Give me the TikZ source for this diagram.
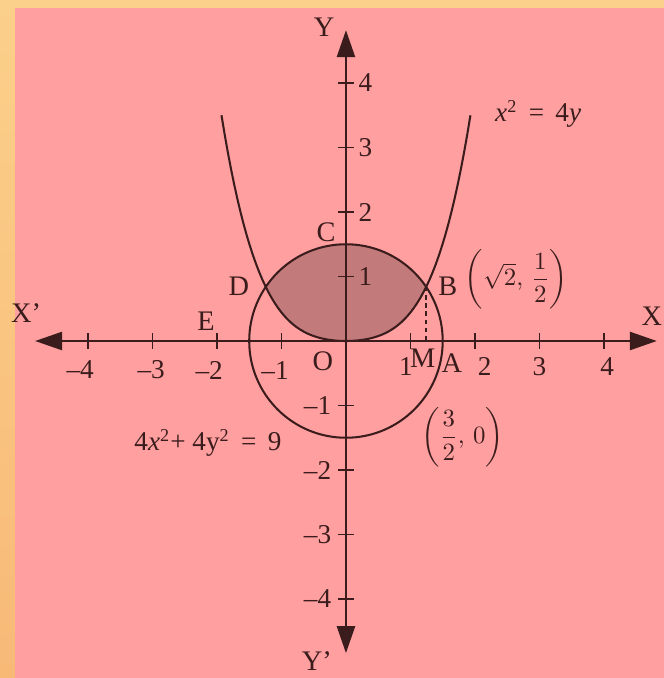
\documentclass[tikz,border=0pt]{standalone}
\usepackage{amsmath}
\usepackage{fontspec}
\setmainfont{Liberation Serif}
\usepackage{xcolor}
\usepackage{tikz}
\usetikzlibrary{arrows.meta,calc}
\definecolor{framehigh}{HTML}{FBD08A}
\definecolor{framelow}{HTML}{F8B977}
\definecolor{paper}{HTML}{FF9F9F}
\definecolor{region}{HTML}{C27A7A}
\definecolor{ink}{HTML}{3A1C1C}
\tikzset{
  axis/.style={draw=ink,line width=1.1pt,{Triangle[length=4.2mm,width=2.8mm]}-{Triangle[length=4.2mm,width=2.8mm]}},
  curve/.style={draw=ink,line width=0.9pt},
  tick/.style={draw=ink,line width=0.8pt},
  dropline/.style={draw=ink,line width=0.9pt,dash pattern=on 2pt off 1.6pt},
  ticklabel/.style={font=\fontsize{12}{14}\selectfont,text=ink,inner sep=0pt},
  pointlabel/.style={font=\fontsize{12.5}{14}\selectfont,text=ink,inner sep=0pt},
  eqlabel/.style={font=\fontsize{12}{14}\selectfont,text=ink,inner sep=0pt}
}
\begin{document}
\begin{tikzpicture}
  \useasboundingbox (-5.364,-5.225) rectangle (4.930,5.287);
  \shade[top color=framehigh,bottom color=framelow] (-5.364,-5.225) rectangle (4.930,5.287);
  \fill[paper] (-5.132,-5.225) rectangle (4.930,5.163);
  % points of the figure
  \coordinate (O) at (0,0);
  \coordinate (B) at (34:1.5);
  \coordinate (D) at (146:1.5);
  \coordinate (M) at (B |- O);
  \coordinate (xl) at (-4.82,0);
  \coordinate (xr) at (4.82,0);
  \coordinate (yt) at (0,4.82);
  \coordinate (yb) at (0,-4.84);
  % shaded region between the curves
  \fill[region] plot[domain=-1.2436:1.2436,samples=60] (\x,{0.2603*\x*\x+0.1824*\x*\x*\x*\x})
    arc[start angle=34,end angle=146,radius=1.5] -- cycle;
  \draw[curve] (O) circle[radius=1.5];
  \draw[curve] plot[domain=-1.93:1.93,samples=80] (\x,{0.2603*\x*\x+0.1824*\x*\x*\x*\x});
  \draw[dropline] (B) -- (M);
  \draw[axis] (xl) -- (xr);
  \draw[axis] (yt) -- (yb);
  \foreach \k in {-4,-3,-2,-1,1,2,3,4} {
    \draw[tick] (\k,-0.12) -- (\k,0.12);
    \draw[tick] (-0.12,\k) -- (0.12,\k);
  }
  \foreach \k/\dx in {1/-0.07,2/0.15,3/0,4/0.05}
    \node[ticklabel] (xp\k) at (\k+\dx,-0.39) {\k};
  \foreach \k/\dx in {1/-0.1,2/-0.12,3/-0.02,4/-0.12}
    \node[ticklabel] (xn\k) at (-\k+\dx,-0.45) {–\k};
  \foreach \k in {1,...,4} {
    \node[ticklabel] (yp\k) at (0.3,\k) {\k};
    \node[ticklabel] (yn\k) at (-0.44,-\k) {–\k};
  }
  % point and axis names
  \node[pointlabel] (lC) at (-0.31,1.69) {C};
  \node[pointlabel] (lD) at (-1.66,0.85) {D};
  \node[pointlabel] (lB) at (1.58,0.85) {B};
  \node[pointlabel] (lE) at (-2.17,0.31) {E};
  \node[pointlabel] (lO) at (-0.36,-0.31) {O};
  \node[pointlabel] (lM) at (1.19,-0.26) {M};
  \node[pointlabel] (lA) at (1.64,-0.34) {A};
  \node[pointlabel] (lX1) at (-4.96,0.43) {X'};
  \node[pointlabel,anchor=east] (lX) at (4.91,0.39) {X};
  \node[pointlabel] (lY) at (-0.34,4.87) {Y};
  \node[pointlabel] (lY1) at (-0.45,-4.96) {Y'};
  % equations and coordinates
  \node[eqlabel] (parab) at (2.98,3.52) {\textit{x}\textsuperscript{2}\,\ =\,\ 4\textit{y}};
  \node[eqlabel] (circ) at (-2.14,-1.58) {4\textit{x}\textsuperscript{2}+ 4y\textsuperscript{2}\,\ =\,\ 9};
  \node[eqlabel,font=\fontsize{11}{13}\selectfont] (ptB) at (2.64,0.95) {$\left(\sqrt{2},\,\dfrac{1}{2}\right)$};
  \node[eqlabel,font=\fontsize{11}{13}\selectfont] (ptA) at (1.81,-1.49) {$\left(\dfrac{3}{2},\,0\right)$};
\end{tikzpicture}
\end{document}
